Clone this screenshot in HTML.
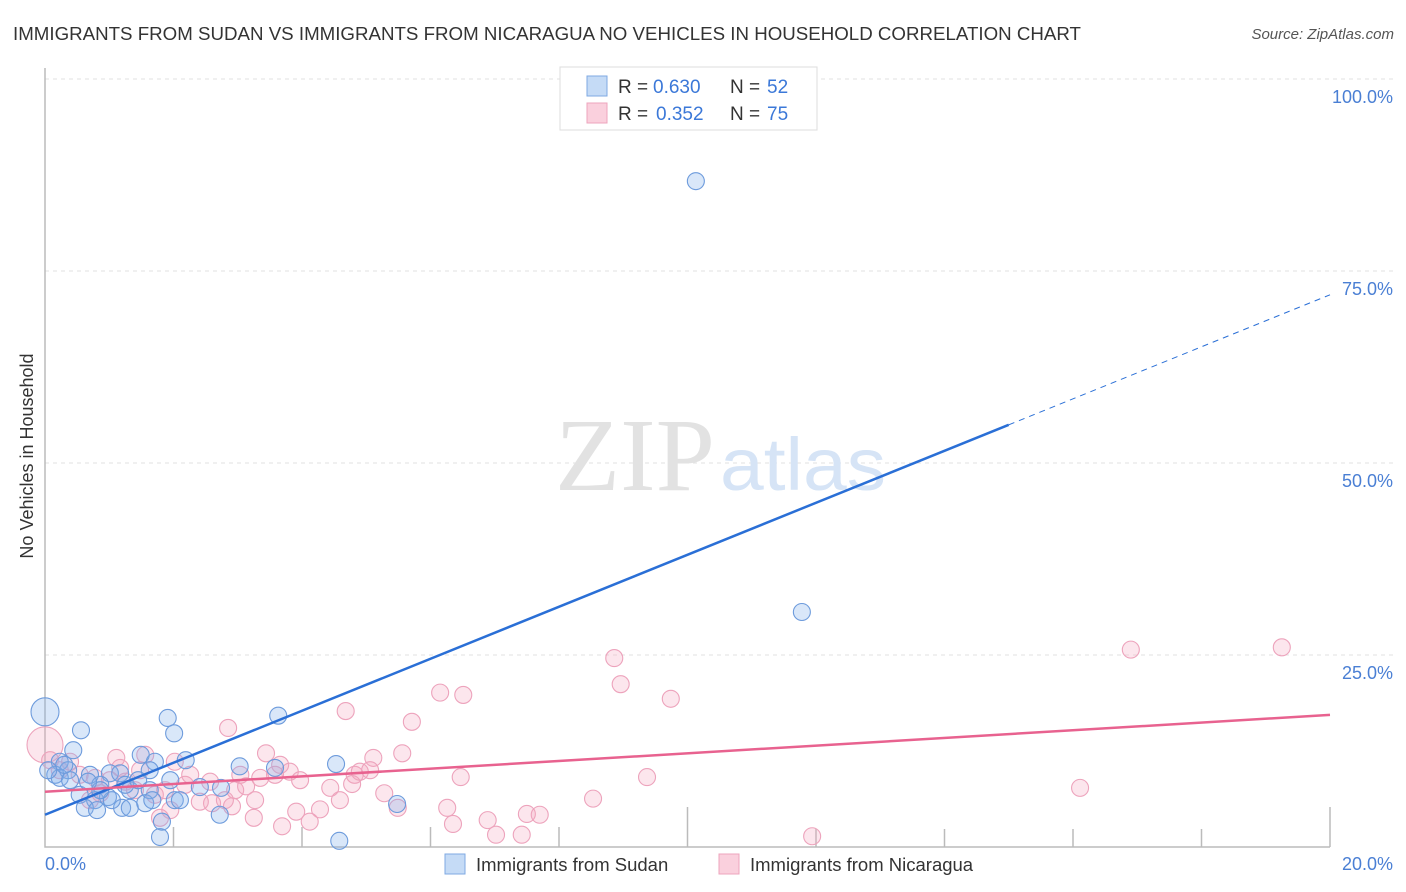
<!DOCTYPE html>
<html><head><meta charset="utf-8"><style>
body{margin:0;background:#fff;font-family:"Liberation Sans",sans-serif;}
#wrap{position:relative;width:1406px;height:892px;overflow:hidden;}
</style></head><body>
<div id="wrap">
<svg id="svg" width="1406" height="892" xmlns="http://www.w3.org/2000/svg">
<text x="13" y="40" font-size="18.5" fill="#333" textLength="1068" lengthAdjust="spacingAndGlyphs">IMMIGRANTS FROM SUDAN VS IMMIGRANTS FROM NICARAGUA NO VEHICLES IN HOUSEHOLD CORRELATION CHART</text>
<text x="1394" y="39" font-size="15" fill="#555" font-style="italic" text-anchor="end">Source: ZipAtlas.com</text>
<g id="grid"></g>
<text x="555" y="490" font-size="104" fill="#e2e2e2" font-family="Liberation Serif,serif" textLength="160" lengthAdjust="spacingAndGlyphs">ZIP</text>
<text x="720" y="490" font-size="74" fill="#d6e4f6" textLength="166" lengthAdjust="spacingAndGlyphs">atlas</text>
<g id="axes"></g>
<g id="pts"></g>
<g id="lines"></g>
<text x="33" y="456" font-size="18" fill="#333" text-anchor="middle" transform="rotate(-90 33 456)">No Vehicles in Household</text>
<text x="45" y="870" font-size="18" fill="#4a7fd4">0.0%</text>
<text x="1393" y="870" font-size="18" fill="#4a7fd4" text-anchor="end">20.0%</text>
<g>
<rect x="560" y="67" width="257" height="63" fill="#fff" stroke="#ddd"/>
<rect x="587" y="76" width="20" height="20" fill="#c5dbf6" stroke="#7fa9e3"/>
<rect x="587" y="103" width="20" height="20" fill="#fad0dd" stroke="#eea4bd"/>
<text x="618" y="93" font-size="19" fill="#333">R =</text>
<text x="653" y="93" font-size="19" fill="#3b78d8">0.630</text>
<text x="730" y="93" font-size="19" fill="#333">N =</text>
<text x="767" y="93" font-size="19" fill="#3b78d8">52</text>
<text x="618" y="120" font-size="19" fill="#333">R =</text>
<text x="656" y="120" font-size="19" fill="#3b78d8">0.352</text>
<text x="730" y="120" font-size="19" fill="#333">N =</text>
<text x="767" y="120" font-size="19" fill="#3b78d8">75</text>
</g>
<g>
<rect x="445" y="854" width="20" height="20" fill="#c5dbf6" stroke="#7fa9e3"/>
<text x="476" y="871" font-size="18.5" fill="#333">Immigrants from Sudan</text>
<rect x="719" y="854" width="20" height="20" fill="#fad0dd" stroke="#eea4bd"/>
<text x="750" y="871" font-size="18.5" fill="#333">Immigrants from Nicaragua</text>
</g>
</svg>
</div>
<script>
const yTicks=[25,50,75,100];
const yTickLabels=["25.0%","50.0%","75.0%","100.0%"];
const xTicks=[0,2,4,6,8,10,12,14,16,18,20];
const sudanX=[0,10.13,11.78,0.56,1.91,2.01,0.44,3.63,1.49,1.71,2.19,3.03,3.58,4.53,5.48,0.23,0.16,0.36,0.70,1.01,1.17,0.86,0.54,0.78,0.98,1.32,1.63,2.02,2.41,0.23,0.05,0.62,0.81,1.20,1.32,1.56,1.67,2.10,2.72,2.74,1.79,1.82,4.58,0.39,1.25,1.45,1.04,0.86,1.95,1.63,0.30,0.67];
const sudanY=[17.6,86.7,30.6,15.2,16.8,14.8,12.6,17.1,12.0,11.1,11.3,10.5,10.3,10.8,5.6,11.1,9.4,10.0,9.4,9.6,9.6,8.1,6.8,6.1,6.5,7.4,7.4,6.1,7.8,9.0,10.0,5.1,4.8,5.1,5.1,5.7,6.1,6.1,4.2,7.7,1.3,3.3,0.8,8.7,8.1,8.7,6.1,7.4,8.7,10.0,10.7,8.5];
const nicX=[0,8.86,8.96,6.15,6.51,9.74,16.90,19.25,4.68,5.71,2.85,3.44,5.56,5.11,6.47,9.37,16.11,8.53,7.50,7.70,6.89,7.02,7.42,11.94,6.26,6.35,5.49,5.28,4.82,4.59,4.28,3.91,4.12,3.69,3.25,2.91,2.60,2.41,2.18,2.02,1.56,1.11,0.39,0.23,0.54,0.78,1.01,1.25,1.40,1.71,1.87,2.26,2.57,3.04,3.35,3.66,3.81,4.44,4.90,5.06,4.78,1.79,2.96,3.27,0.86,0.70,1.48,1.17,0.08,1.95,3.13,3.58,3.97,2.80];
const nicY=[13.3,24.6,21.2,20.1,19.8,19.3,25.7,26.0,17.7,16.3,15.5,12.2,12.2,11.6,9.1,9.1,7.7,6.3,4.3,4.2,3.5,1.6,1.6,1.4,5.1,3.0,5.1,7.0,9.4,6.1,4.9,4.6,3.3,2.7,3.8,5.3,5.7,5.9,8.1,11.1,12.0,11.6,11.1,10.0,9.4,9.0,8.7,8.5,7.4,6.8,7.4,9.4,8.5,9.4,9.0,10.7,9.8,7.7,9.8,10.0,8.2,3.8,7.4,6.1,7.0,6.1,10.0,10.3,11.3,4.8,7.9,9.4,8.7,6.1];
const sudanR=[14,8.5,8.5];
const nicR=[18];
const sudanLine=[4.2,71.9];
const nicLine=[7.2,17.2];
const sudanSolidEnd=15;

const NS="http://www.w3.org/2000/svg";
const X0=45,X1=1330,Y0=847,Y1=79;
function sx(v){return X0+(X1-X0)*v/20;}
function sy(v){return Y0-(Y0-Y1)*v/100;}
function mk(tag,attrs,parent){const e=document.createElementNS(NS,tag);for(const k in attrs)e.setAttribute(k,attrs[k]);parent.appendChild(e);return e;}
const grid=document.getElementById('grid'),axes=document.getElementById('axes'),pts=document.getElementById('pts'),lines=document.getElementById('lines');
yTicks.forEach((t,i)=>{
 const l=mk('line',{x1:X0,x2:1393,y1:sy(t),y2:sy(t),stroke:'#e2e2e2','stroke-dasharray':'4,4'},grid);
 
 
 const tx=mk('text',{x:1393,y:sy(t)+24,'font-size':18,fill:'#4a7fd4','text-anchor':'end'},grid);
 tx.textContent=yTickLabels[i];
 
 
});
const ax=mk('path',{d:`M${X0} 68 V${Y0} H${X1}`,stroke:'#bbb','stroke-width':1.5,fill:'none'},axes);


xTicks.forEach((t,i)=>{
 if(i===0)return;
 const h=(t===10||t===20)?40:(t>10?18:20);
 const tk=mk('line',{x1:sx(t),x2:sx(t),y1:Y0,y2:Y0-h,stroke:'#bbb','stroke-width':1.5},axes);
 
 
});
function dots(X,Y,R,fill,stroke,name){
 X.forEach((x,i)=>{
  const c=mk('circle',{cx:sx(x),cy:sy(Y[i]),r:R[i]||8.5,fill:fill,stroke:stroke,'stroke-width':1.1},pts);
  
  
 });
}
dots(nicX,nicY,nicR,'rgba(245,165,190,0.28)','#eda3bc','point-nicaragua');
dots(sudanX,sudanY,sudanR,'rgba(130,175,235,0.3)','#6d9bdc','point-sudan');
const l1=mk('line',{x1:sx(0),y1:sy(sudanLine[0]),x2:sx(sudanSolidEnd),y2:sy(sudanLine[0]+(sudanLine[1]-sudanLine[0])*sudanSolidEnd/20),stroke:'#2a6fd6','stroke-width':2.5},lines);


const l2=mk('line',{x1:sx(sudanSolidEnd),y1:sy(sudanLine[0]+(sudanLine[1]-sudanLine[0])*sudanSolidEnd/20),x2:sx(20),y2:sy(sudanLine[1]),stroke:'#2a6fd6','stroke-width':1,'stroke-dasharray':'6,5'},lines);


const l3=mk('line',{x1:sx(0),y1:sy(nicLine[0]),x2:sx(20),y2:sy(nicLine[1]),stroke:'#e8628f','stroke-width':2.5},lines);


</script>
</body></html>
